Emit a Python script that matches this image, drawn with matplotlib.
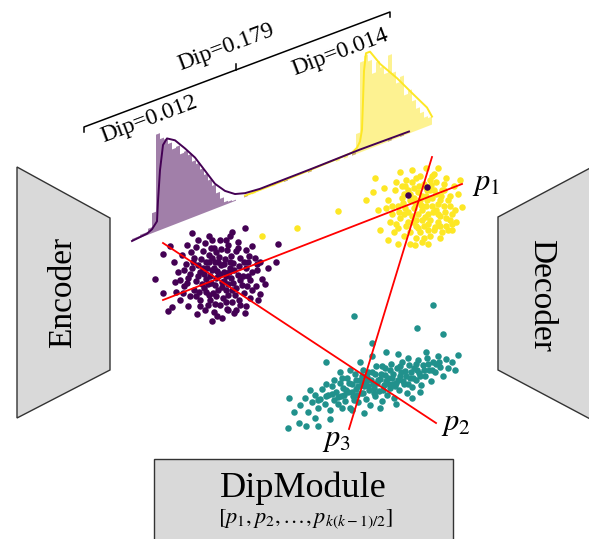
import numpy as np
import matplotlib
matplotlib.use("Agg")
import matplotlib.pyplot as plt
from matplotlib.patches import Polygon, Rectangle
from matplotlib.transforms import Affine2D

plt.rcParams['mathtext.fontset'] = 'stix'
SERIF = 'Liberation Serif'

# ---------------- data (pixel-like coordinates of the sketch) ----------------
purple_pts = [(218,276),(212,270),(224,281),(206,279),(229,272),(215,285),(221,265),(209,262),(233,283),(200,272),
              (226,290),(213,293),(238,275),(204,288),(230,262),(219,257),(196,281),(242,285),(210,300),(235,295),
              (223,298),(192,268),(246,268),(201,259),(214,248),(227,250),(240,258),(188,278),(250,280),(207,268),
              (217,271),(222,287),(199,292),(231,278),(211,283),(225,259),(244,293),(194,290),(203,251),(236,251),
              (216,296),(232,302),(186,264),(248,262),(190,296),(252,290),(208,305),(220,305),(228,245),(212,240),
              (182,255),(178,272),(184,286),(180,300),(196,247),(205,243),(220,240),(238,242),(246,250),(255,258),
              (257,270),(256,286),(250,298),(240,305),(228,310),(214,312),(200,306),(188,306),(175,282),(174,262),
              (187,245),(260,262),(262,279),(246,306),(234,313),(198,240),(230,236),(252,246),(176,292),(194,258),
              (206,292),(243,276),(239,266),(209,255),(224,272),(215,262),(198,265),(232,290),(187,283),(248,276),
              (216,278),(220,274),(210,276),(226,276),(214,268),(222,282),(208,284),(230,268),(218,290),(204,274),
              (228,284),(212,258),(234,270),(198,276),(224,264),(206,262),(236,288),(216,252),(202,284),(240,280),
              (190,274),(244,262),(196,296),(226,302),(218,262),(231,256),(209,295),(184,270),(252,272),(221,249),
              (200,300),(239,300),(193,262),(215,304),(247,286),(183,293),(257,264),(205,310),(236,310),(226,240),
              (211,248),(238,248),(191,252),(260,294),(180,280),(249,256),(217,316),(203,268),(228,295),(233,263),
              (155,279),(163,293),(163,254),(192,233),(209,236),(232,232),(245,228),(278,244),(276,262),(265,284),
              (258,300),(172,307),(168,311),(197,314),(212,321),(222,318),(245,313),(227,309),(268,268),(170,246),
              (427,187),(408,195)]

yellow_pts = [(420,200),(426,206),(414,208),(432,198),(418,192),(428,214),(410,200),(436,210),(422,220),(440,200),
              (412,216),(430,190),(405,208),(445,212),(424,184),(416,226),(438,222),(408,190),(434,230),(448,200),
              (402,198),(420,232),(442,190),(428,224),(412,182),(452,214),(400,218),(436,182),(446,226),(418,214),
              (426,196),(406,226),(432,206),(414,198),(440,216),(422,210),(450,206),(398,206),(430,236),(416,238),
              (395,190),(392,214),(398,228),(404,236),(422,242),(440,238),(452,230),(456,222),(458,194),(454,186),
              (446,178),(434,174),(420,176),(406,180),(396,182),(388,200),(390,222),(410,244),(428,244),(444,190),
              (412,170),(426,168),(438,168),(400,172),(386,208),(408,222),(424,186),(436,194),(450,220),(402,186),
              (416,220),(430,180),(442,232),(394,232),(404,214),(384,188),
              (421,205),(427,200),(415,203),(433,212),(419,186),(425,217),(410,194),(438,204),(424,226),(444,206),
              (408,212),(431,185),(403,203),(446,218),(427,190),(413,222),(435,227),(405,186),(440,226),(450,196),
              (399,212),(418,228),(444,184),(430,220),(416,178),(455,210),(396,224),(434,190),(448,230),(422,196),
              (428,230),(410,232),(438,214),(404,194),(452,224),(392,206),(424,238),(441,196),(414,188),(432,176),
              (338,211),(297,228),(373,192),(378,210),(380,230),(375,178),(462,207),(388,240),(415,245),(398,244),
              (262,236),(460,180),(366,200)]

teal_pts = [(300,405),(305,398),(308,412),(312,402),(315,395),(318,408),(320,399),(322,389),(325,404),(328,395),
            (330,410),(332,386),(334,400),(336,392),(338,404),(340,383),(341,396),(343,388),(345,401),(347,378),
            (348,392),(350,408),(352,384),(353,396),(355,374),(356,389),(358,402),(360,380),(361,393),(363,370),
            (364,386),(366,399),(367,377),(369,390),(370,405),(372,372),(373,384),(375,396),(376,366),(378,380),
            (379,391),(381,374),(382,401),(384,385),(385,368),(387,395),(388,378),(390,388),(391,364),(393,374),
            (394,398),(396,383),(397,368),(399,390),(400,376),(402,362),(404,384),(405,371),(407,393),(409,365),
            (410,378),(412,387),(414,368),(416,380),(418,360),(419,373),(421,385),(423,365),(425,376),(427,358),
            (429,370),(431,381),(433,362),(435,372),(438,356),(440,367),(443,376),(446,359),(448,368),(452,362),
            (455,370),(458,355),(340,372),(352,410),(364,413),(380,408),(396,404),(326,384),(310,390),(412,398),
            (386,352),(372,356),(360,362),(398,354),(420,392),(350,370),(334,380),
            (346,390),(352,392),(358,386),(362,384),(366,382),(368,386),(371,380),(374,388),(377,383),(380,379),
            (383,390),(386,381),(389,384),(392,378),(395,386),(398,380),(401,372),(403,381),(406,376),(408,384),
            (411,372),(413,378),(417,370),(420,376),(424,370),(428,364),(432,370),(436,364),(344,395),(338,397),
            (332,394),(357,395),(363,393),(374,393),(385,375),(393,384),(349,383),(356,380),(362,376),(368,372),
            (375,374),(382,366),(390,370),(400,366),(408,358),(416,364),(326,396),(318,400),(342,378),(354,400),
            (433,305),(354,316),(417,328),(443,334),(426,352),(439,362),(372,343),(326,362),(289,398),(288,428),
            (299,423),(330,419),(315,418),(342,408),(294,412),(306,426),(318,426)]

# projection lines (endpoints) and their labels
line_p1 = [(163, 300), (462, 184)]
line_p2 = [(163, 243), (436, 423)]
line_p3 = [(432, 157), (349, 429)]
label_pos = {"$p_1$": (486, 183), "$p_2$": (456, 424), "$p_3$": (336, 439)}

# histogram on the projection axis: bins of width 4 starting at offset 0
bin_width = 4
purple_counts = [2,2,3,3,6,20,97,91,89,83,
                 76,77,68,69,64,56,52,45,38,31,
                 24,15,8,3,2,1,0,0,2,0,
                 0,0,0,0,0,0,0,0,2,0,
                 0,0,0,0,2,0,0,0,0,0,
                 0,0,0,0,0,2,0,0,0,0,
                 0,0,0,0,2,0,0,2,0,0,
                 0,0,0,0,0,0]
yellow_counts = [0,0,0,0,0,0,0,0,0,0,
                 0,0,0,0,0,0,0,0,0,0,
                 0,0,0,0,0,0,0,0,0,0,
                 2,0,0,0,0,2,0,0,0,0,
                 0,0,0,0,2,0,0,0,0,0,
                 0,2,0,2,0,3,20,90,95,88,
                 74,84,77,69,86,67,55,60,40,43,
                 31,22,16,10,8,0]

purple_kde_u = [0, 15, 20, 25, 26, 28, 31, 35, 43, 53, 63, 73, 83, 93, 103, 113, 128, 181, 228, 277]
purple_kde_h = [0, 1.5, 4, 10, 30, 60, 84, 89, 84, 72, 59, 42, 25, 14, 7, 4, 2.5, 2.5, 3, 2]
yellow_kde_u = [113, 148, 181, 208, 220, 225, 228, 230, 231, 232, 234, 238, 248, 265, 281, 295, 300]
yellow_kde_h = [1.5, 1.5, 2, 2.5, 3, 6, 11, 22, 50, 80, 97, 97, 81, 60, 38, 19, 8]

dip_texts = [("Dip=0.012", (149, 119)), ("Dip=0.179", (226, 47)), ("Dip=0.014", (340, 52))]

PURPLE, TEAL, YELLOW = "#440154", "#21918c", "#fde725"

# ---------------- figure ----------------
fig = plt.figure(figsize=(5.89, 5.39), dpi=100)
ax = fig.add_axes([0, 0, 1, 1])
ax.set_xlim(0, 589)
ax.set_ylim(539, 0)
ax.axis('off')

box_fc, box_ec = "#d9d9d9", "#333333"
ax.add_patch(Polygon([(17, 167), (110, 218), (110, 370), (17, 418)], closed=True,
                     fc=box_fc, ec=box_ec, lw=1.0))
ax.add_patch(Polygon([(498, 217), (594, 166), (594, 421), (498, 370)], closed=True,
                     fc=box_fc, ec=box_ec, lw=1.0))
ax.add_patch(Rectangle((154, 459), 299, 100, fc=box_fc, ec=box_ec, lw=1.0))

ax.text(63, 292, "Encoder", rotation=90, ha='center', va='center', family=SERIF, fontsize=24)
ax.text(541, 295, "Decoder", rotation=-90, ha='center', va='center', family=SERIF, fontsize=24)
ax.text(303, 488, "DipModule", ha='center', va='center', family=SERIF, fontsize=26)
ax.text(305, 519, r"$[p_1, p_2, \ldots, p_{k(k-1)/2}]$", ha='center', va='center', fontsize=16)

# sheared frame for histogram (baseline parallel to p1)
x0, y0, slope = 132, 241, -0.388
tr = Affine2D.from_values(1, slope, 0, -1, x0, y0) + ax.transData

edges = np.arange(len(purple_counts)) * bin_width
for u, h in zip(edges, purple_counts):
    if h > 0:
        ax.add_patch(Rectangle((u, 0), bin_width, h, transform=tr, fc=PURPLE, alpha=0.5, lw=0))
for u, h in zip(edges, yellow_counts):
    if h > 0:
        ax.add_patch(Rectangle((u, 0), bin_width, h, transform=tr, fc=YELLOW, alpha=0.5, lw=0))
ax.plot(yellow_kde_u, yellow_kde_h, color=YELLOW, lw=1.4, transform=tr)
ax.plot(purple_kde_u, purple_kde_h, color=PURPLE, lw=1.4, transform=tr)

# bracket above histogram
bx = [84, 84, 390, 390]
by = [132, 127, 12, 17]
ax.plot(bx, by, color='black', lw=1.1)
ax.plot([236, 236], [70, 64], color='black', lw=1.1)

ang = np.degrees(np.arctan(115 / 306))
for t, (tx, ty) in dip_texts:
    ax.text(tx, ty, t, rotation=ang, rotation_mode='anchor', ha='center', va='center',
            family=SERIF, fontsize=17)

# scatter clusters
for pts, col in [(teal_pts, TEAL), (yellow_pts, YELLOW), (purple_pts, PURPLE)]:
    a = np.array(pts)
    ax.scatter(a[:, 0], a[:, 1], s=22, color=col, lw=0, zorder=3)

for ln in (line_p1, line_p2, line_p3):
    a = np.array(ln)
    ax.plot(a[:, 0], a[:, 1], color='red', lw=1.3, zorder=4)

for lab, (lx, ly) in label_pos.items():
    ax.text(lx, ly, lab, ha='center', va='center', fontsize=22, zorder=5)

fig.savefig("out.png", dpi=100)
